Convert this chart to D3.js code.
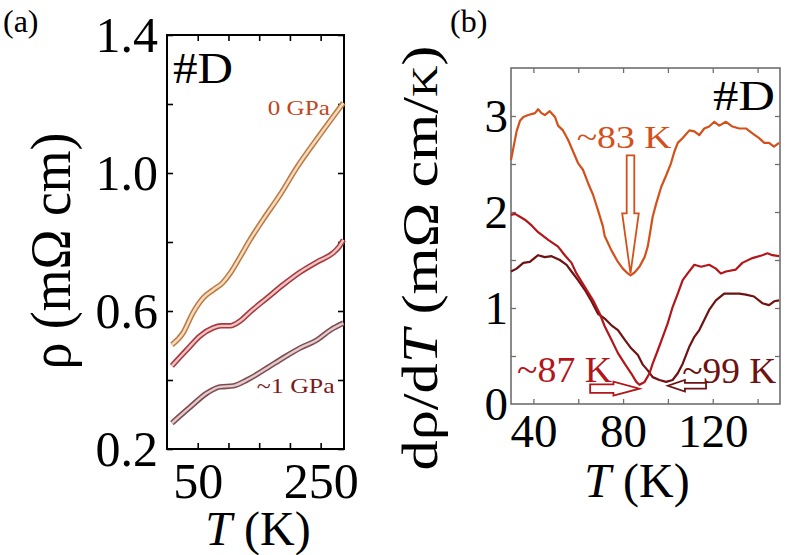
<!DOCTYPE html>
<html><head><meta charset="utf-8">
<script src="https://cdn.jsdelivr.net/npm/d3@7"></script>
<style>
body{margin:0;background:#fff}
svg, svg text{font-family:"Liberation Serif","Times New Roman","DejaVu Serif",serif !important}
</style>
</head><body>
<svg id="c" width="787" height="555" font-family="Liberation Serif"></svg>
<script>
// ---------- Panel (a): resistivity vs T ----------
const aTicksX = [50, 100, 150, 200, 250];
const aLabelsX = [50, 250];
const aTicksY = [0.2, 0.4, 0.6, 0.8, 1.0, 1.2, 1.4];
const aLabelsY = [0.2, 0.6, 1.0, 1.4];

const aT_0GPa = [8, 26, 42, 59, 75, 90, 103, 119, 135, 156, 184, 212, 249, 287];
const aRho_0GPa = [0.502, 0.536, 0.594, 0.638, 0.661, 0.681, 0.710, 0.757, 0.806, 0.864, 0.937, 1.018, 1.111, 1.203];
const aT_mid = [8, 32, 54, 75, 88, 103, 119, 135, 163, 189, 217, 244, 270, 280, 287];
const aRho_mid = [0.441, 0.487, 0.528, 0.551, 0.557, 0.557, 0.571, 0.597, 0.638, 0.676, 0.713, 0.742, 0.768, 0.786, 0.806];
const aT_1GPa = [8, 38, 65, 86, 108, 130, 163, 189, 217, 244, 266, 287];
const aRho_1GPa = [0.275, 0.322, 0.362, 0.380, 0.383, 0.400, 0.435, 0.464, 0.493, 0.516, 0.545, 0.565];

// ---------- Panel (b): d rho / dT ----------
const bTicksX = [40, 60, 80, 100, 120, 140];
const bLabelsX = [40, 80, 120];
const bTicksY = [0.5, 1, 1.5, 2, 2.5, 3];
const bLabelsY = [0, 1, 2, 3];

const bT_83 = [30.0,31.0,32.5,34.0,35.5,37.7,40.7,42.1,43.6,45.1,47.3,49.6,51.0,53.2,55.5,57.7,59.9,62.1,64.4,66.6,68.8,71.0,71.8,74.8,77.7,79.9,82.1,83.3,85.1,87.3,89.6,91.0,91.8,93.2,94.8,97.0,99.2,101.4,102.9,104.4,106.6,109.6,111.8,114.0,116.2,118.4,120.7,122.9,125.9,128.8,131.8,134.8,137.7,140.7,143.0,145.1,147.3,149.6];
const bV_83 = [2.54,2.66,2.84,2.95,2.99,3.01,3.03,3.07,3.03,3.01,3.05,2.99,2.90,2.85,2.75,2.63,2.51,2.44,2.30,2.18,2.02,1.85,1.75,1.60,1.48,1.41,1.36,1.34,1.37,1.43,1.53,1.64,1.75,1.95,2.09,2.26,2.38,2.51,2.63,2.72,2.77,2.85,2.84,2.80,2.87,2.89,2.94,2.90,2.94,2.89,2.87,2.87,2.82,2.77,2.72,2.72,2.68,2.72];

const bT_87 = [30.0,31.8,34.0,36.2,39.2,42.1,46.6,51.0,54.0,57.0,59.2,62.9,66.6,69.6,71.8,74.8,77.7,80.7,83.6,85.9,87.3,89.6,91.8,93.2,95.5,97.7,99.9,102.1,104.4,106.6,108.8,111.8,114.8,118.4,121.4,123.6,125.9,130.3,133.2,137.7,142.1,144.4,146.6,149.6];
const bV_87 = [1.97,1.98,1.95,1.92,1.86,1.79,1.71,1.64,1.55,1.47,1.36,1.22,1.08,0.94,0.81,0.67,0.53,0.42,0.32,0.23,0.20,0.23,0.32,0.42,0.56,0.70,0.84,1.01,1.15,1.29,1.36,1.45,1.43,1.45,1.41,1.36,1.38,1.40,1.47,1.52,1.55,1.57,1.55,1.54];

const bT_99 = [30.0,32.5,35.5,38.4,42.1,45.1,48.1,51.8,54.8,57.0,59.9,62.9,65.9,68.8,71.8,74.8,77.7,80.7,83.6,86.6,88.8,91.0,93.2,96.2,99.2,102.1,104.4,106.6,109.6,111.8,114.0,116.2,118.4,121.4,125.1,128.8,131.8,134.8,138.4,142.1,145.1,147.4,149.6];
const bV_99 = [1.38,1.41,1.47,1.48,1.55,1.53,1.54,1.50,1.45,1.38,1.29,1.19,1.07,0.94,0.89,0.82,0.77,0.67,0.58,0.51,0.41,0.35,0.28,0.25,0.23,0.25,0.32,0.42,0.60,0.70,0.77,0.875,0.98,1.08,1.15,1.15,1.15,1.14,1.12,1.05,1.03,1.07,1.08];

const FONT = '"Liberation Serif","Times New Roman","DejaVu Serif",serif';
const svg = d3.select("#c");

// ---------- scales ----------
const xa = d3.scaleLinear().domain([0, 288]).range([167, 344]);
const ya = d3.scaleLinear().domain([0.2, 1.4]).range([449, 35]);
const xb = d3.scaleLinear().domain([30, 150]).range([511, 780]);
const yb = d3.scaleLinear().domain([0, 3.5]).range([404, 68]);

function txt(x, y, fs, s, opts = {}) {
  const t = svg.append("text").attr("x", x).attr("y", y).attr("font-size", fs)
    .attr("font-family", FONT).attr("fill", opts.fill || "#000").text(s);
  if (opts.len) t.attr("textLength", opts.len).attr("lengthAdjust", "spacingAndGlyphs");
  return t;
}

function frame(x, y, xt, yt, len, color, width) {
  const [x0, x1] = x.range(), [y1, y0] = y.range();
  const g = svg.append("g");
  const mk = (axis, tr) => {
    const a = g.append("g").attr("transform", tr).call(axis);
    a.select(".domain").remove();
    a.selectAll("line").attr("stroke", color).attr("stroke-width", width * 0.8);
  };
  mk(d3.axisBottom(x).tickValues(xt).tickSize(-len).tickFormat(""), `translate(0,${y1})`);
  mk(d3.axisTop(x).tickValues(xt).tickSize(-len).tickFormat(""), `translate(0,${y0})`);
  mk(d3.axisLeft(y).tickValues(yt).tickSize(-len).tickFormat(""), `translate(${x0},0)`);
  mk(d3.axisRight(y).tickValues(yt).tickSize(-len).tickFormat(""), `translate(${x1},0)`);
  g.append("rect").attr("x", x0).attr("y", y0).attr("width", x1 - x0).attr("height", y1 - y0)
    .attr("fill", "none").attr("stroke", color).attr("stroke-width", width);
}

function labels(x, y, xl, yl, fmtY, fs, padX, padY) {
  const [x0] = x.range(), [y1] = y.range();
  const gx = svg.append("g").attr("transform", `translate(0,${y1})`)
    .call(d3.axisBottom(x).tickValues(xl).tickSize(0).tickPadding(padX).tickFormat(d3.format("d")));
  gx.attr("font-family", FONT).attr("font-size", fs);
  gx.select(".domain").remove();
  gx.selectAll("text").attr("font-size", fs).attr("fill", "#000").attr("font-family", FONT);
  const gy = svg.append("g").attr("transform", `translate(${x0},0)`)
    .call(d3.axisLeft(y).tickValues(yl).tickSize(0).tickPadding(padY).tickFormat(fmtY));
  gy.attr("font-family", FONT).attr("font-size", fs);
  gy.select(".domain").remove();
  gy.selectAll("text").attr("font-size", fs).attr("fill", "#000").attr("font-family", FONT);
}

// ---------- Panel (a) ----------
frame(xa, ya, aTicksX, aTicksY, 6, "#000", 2);
labels(xa, ya, aLabelsX, aLabelsY, d3.format(".1f"), 50, 13, 9);

const lineA = d3.line().x(d => xa(d[0])).y(d => ya(d[1])).curve(d3.curveMonotoneX);
const seriesA = [
  {T: aT_0GPa, v: aRho_0GPa, outer: "#bf7a42", inner: "#f2dcc2"},
  {T: aT_mid, v: aRho_mid, outer: "#a8383e", inner: "#ecc4c4"},
  {T: aT_1GPa, v: aRho_1GPa, outer: "#7f4a50", inner: "#e0cccc"}
];
seriesA.forEach(s => {
  const pts = s.T.map((t, i) => [t, s.v[i]]);
  svg.append("path").attr("d", lineA(pts)).attr("fill", "none")
    .attr("stroke", s.outer).attr("stroke-width", 5.5).attr("stroke-linejoin", "round");
  svg.append("path").attr("d", lineA(pts)).attr("fill", "none")
    .attr("stroke", s.inner).attr("stroke-width", 2.4).attr("stroke-linejoin", "round");
});

txt(3, 32, 32, "(a)");
txt(173, 83, 45, "#D", {len: 60});
txt(xa(164), ya(1.168), 22, "0 GPa", {fill: "#c0461c", len: 62});
txt(xa(146), ya(0.363), 22, "~1 GPa", {fill: "#7a1a1a", len: 78});

svg.append("text").attr("transform", "translate(70,251) rotate(-90)")
  .attr("text-anchor", "middle").attr("font-size", 56).attr("font-family", FONT)
  .attr("textLength", 237).attr("lengthAdjust", "spacingAndGlyphs")
  .text("ρ (mΩ cm)");
const xtA = svg.append("text").attr("x", 258).attr("y", 545).attr("text-anchor", "middle")
  .attr("font-size", 48).attr("font-family", FONT);
xtA.append("tspan").attr("font-style", "italic").text("T");
xtA.append("tspan").text(" (K)");

// ---------- Panel (b) ----------
frame(xb, yb, bTicksX, bTicksY, 5, "#6e6e6e", 1.6);
labels(xb, yb, bLabelsX, bLabelsY, d3.format("d"), 47, 10, 3);

const lineB = d3.line().x(d => xb(d[0])).y(d => yb(d[1]));
const seriesB = [
  {T: bT_83, v: bV_83, c: "#d4501a"},
  {T: bT_99, v: bV_99, c: "#6e1212"},
  {T: bT_87, v: bV_87, c: "#b3161a"}
];
seriesB.forEach(s => {
  svg.append("path").attr("d", lineB(s.T.map((t, i) => [t, s.v[i]])))
    .attr("fill", "none").attr("stroke", s.c).attr("stroke-width", 2.2).attr("stroke-linejoin", "round");
});

function hollowArrow(tail, tip, sw, hw, hl, color) {
  const dx = tip[0] - tail[0], dy = tip[1] - tail[1], L = Math.hypot(dx, dy);
  const u = [dx / L, dy / L], n = [-u[1], u[0]];
  const b = [tip[0] - u[0] * hl, tip[1] - u[1] * hl];
  const p = (q, k) => [q[0] + n[0] * k, q[1] + n[1] * k];
  const pts = [p(tail, sw), p(b, sw), p(b, hw), tip, p(b, -hw), p(b, -sw), p(tail, -sw)];
  svg.append("path").attr("d", "M" + pts.map(q => q.join(",")).join("L") + "Z")
    .attr("fill", "#fff").attr("stroke", color).attr("stroke-width", 1.8).attr("stroke-linejoin", "miter");
}
hollowArrow([xb(83.3), yb(2.59)], [xb(83.3), yb(1.36)], 3.8, 8.3, 60, "#d4501a");
hollowArrow([xb(65.3), yb(0.16)], [xb(87.3), yb(0.16)], 4.2, 7, 26, "#b3161a");
hollowArrow([xb(117), yb(0.19)], [xb(100), yb(0.19)], 2.8, 5.8, 17, "#6e1212");

txt(xb(59.3), yb(2.67), 31, "~83 K", {fill: "#d4501a", len: 95});
txt(xb(32.7), yb(0.23), 36, "~87 K", {fill: "#b3161a", len: 95});
txt(xb(106.4), yb(0.22), 36, "~99 K", {fill: "#6e1212", len: 94});

txt(450, 32, 32, "(b)");
txt(713, 110, 42, "#D", {len: 62});

const ytB = svg.append("text").attr("transform", "translate(437,258) rotate(-90)")
  .attr("text-anchor", "middle").attr("font-size", 50).attr("font-family", FONT)
  .attr("textLength", 425).attr("lengthAdjust", "spacingAndGlyphs");
ytB.append("tspan").text("dρ/d");
ytB.append("tspan").attr("font-style", "italic").text("T");
ytB.append("tspan").text(" (mΩ cm/");
ytB.append("tspan").attr("font-size", 36).text("K");
ytB.append("tspan").text(")");

const xtB = svg.append("text").attr("x", 637).attr("y", 497).attr("text-anchor", "middle")
  .attr("font-size", 48).attr("font-family", FONT);
xtB.append("tspan").attr("font-style", "italic").text("T");
xtB.append("tspan").text(" (K)");
</script>
</body></html>
